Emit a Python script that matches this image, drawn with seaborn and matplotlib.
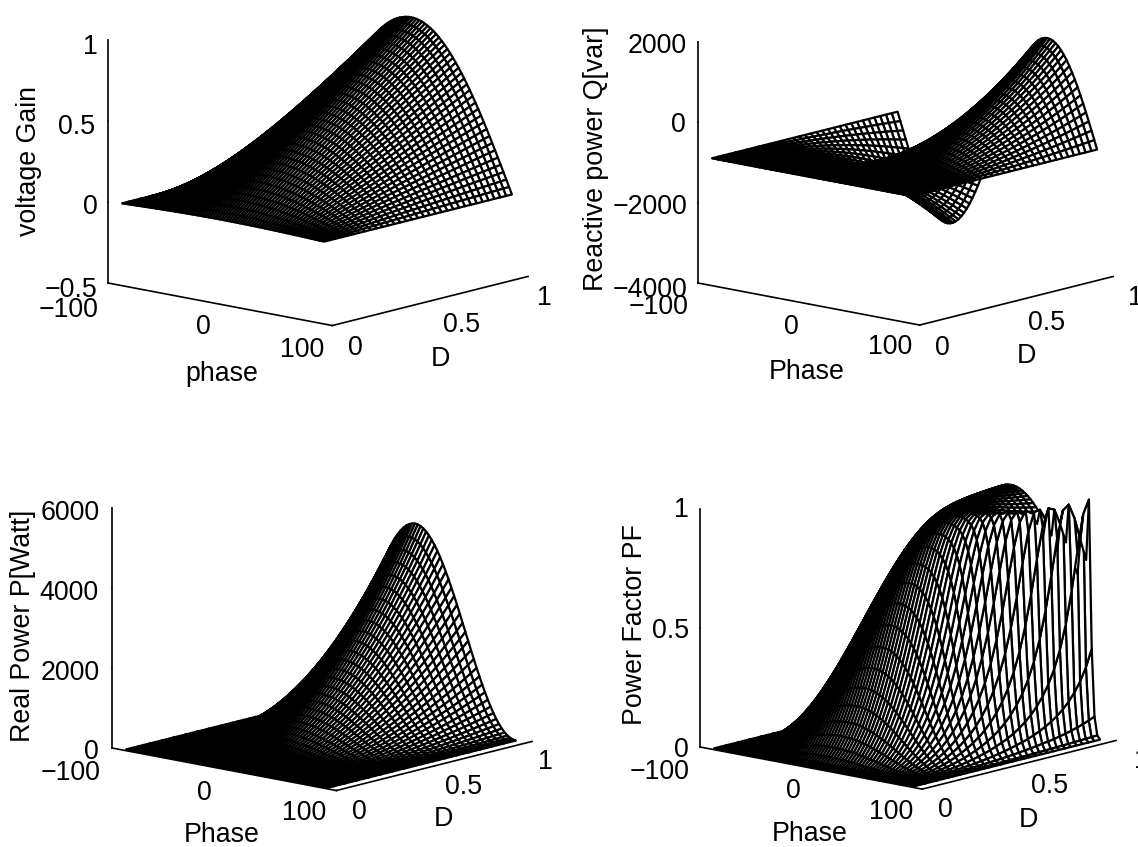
import numpy as np
import matplotlib
matplotlib.use("Agg")
import matplotlib.pyplot as plt
from matplotlib.transforms import offset_copy
import seaborn as sns
from mpl_toolkits.mplot3d import proj3d

# grid of the mesh
phase = [-90,-87.5,-85,-82.5,-80,-77.5,-75,-72.5,-70,-67.5,-65,-62.5,-60,-57.5,-55,-52.5,-50,-47.5,-45,
         -42.5,-40,-37.5,-35,-32.5,-30,-27.5,-25,-22.5,-20,-17.5,-15,-12.5,-10,-7.5,-5,-2.5,0,
         2.5,5,7.5,10,12.5,15,17.5,20,22.5,25,27.5,30,32.5,35,37.5,40,42.5,45,
         47.5,50,52.5,55,57.5,60,62.5,65,67.5,70,72.5,75,77.5,80,82.5,85,87.5,90]
duty = [.015,.045,.075,.105,.135,.165,.195,.225,.255,.285,.315,.345,.375,.405,.435,.465,.495,
        .525,.555,.585,.615,.645,.675,.705,.735,.765,.795,.825,.855,.885,.915,.945,.975]

gain_by_duty = [.015,.045,.075,.105,.135,.165,.195,.225,.255,.285,.315,.345,.375,.405,.435,.465,.495,
                .525,.555,.585,.615,.645,.675,.705,.735,.765,.795,.825,.855,.885,.915,.945,.975]
gain_from_peak = [1,.999,.996,.991,.985,.976,.966,.954,.94,.924,.906,.887,.866,.843,.819,.793,.766,.737,.707,
                  .676,.643,.609,.574,.537,.5,.462,.423,.383,.342,.301,.259,.216,.174,.131,.087,.044,0]
gain_by_phase = gain_from_peak[::-1] + gain_from_peak[1:]
power_by_duty = [1,10,29,57,95,141,198,263,338,422,516,619,731,853,984,1124,1274,1433,1602,1779,1967,
                 2163,2369,2584,2809,3043,3286,3539,3801,4073,4353,4644,4943]
power_from_peak = [1,.998,.992,.983,.97,.953,.933,.91,.883,.854,.821,.786,.75,.71,.671,.629,.587,.543,.5,
                   .457,.413,.371,.329,.289,.25,.214,.179,.147,.117,.09,.067,.047,.03,.017,.008,.002,0]
power_by_phase = power_from_peak[::-1] + power_from_peak[1:]
react_offset = -865
react_by_duty = [1,5,14,29,48,72,102,135,174,217,265,317,375,437,505,577,654,735,823,913,1010,
                 1110,1216,1327,1442,1562,1687,1817,1951,2091,2235,2385,2538]
react_positive = [0,.087,.174,.259,.342,.423,.5,.574,.643,.707,.766,.819,.866,.906,.94,.966,.985,.996,1,
                  .996,.985,.966,.94,.906,.866,.819,.766,.707,.643,.574,.5,.423,.342,.259,.174,.087,0]
react_by_phase = [-v for v in react_positive[::-1]] + react_positive[1:]

xlabels = ["phase", "Phase", "Phase", "Phase"]
ylabel_d = "D"
zlabels = ["voltage Gain", "Reactive power Q[var]", "Real Power P[Watt]", "Power Factor PF"]
zticks = [[-.5,0,.5,1], [-4000,-2000,0,2000], [0,2000,4000,6000], [0,.5,1]]
zticklabels = [["\u22120.5","0","0.5","1"], ["\u22124000","\u22122000","0","2000"],
               ["0","2000","4000","6000"], ["0","0.5","1"]]
zlims = [(-.5,1), (-4000,2000), (0,6000), (0,1)]

sns.set_theme(style="white")
plt.rcParams["font.family"] = ["Liberation Sans", "DejaVu Sans"]
plt.rcParams["text.color"] = "black"
plt.rcParams["axes.labelcolor"] = "black"

G = np.outer(gain_by_phase, gain_by_duty)
P = np.outer(power_by_phase, power_by_duty)
Q = react_offset + np.outer(react_by_phase, react_by_duty)
PF = P / np.sqrt(P**2 + Q**2)
surfaces = [G, Q, P, PF]

# pixel anchors: z-axis foot, front corner, far end of the D axis, z height
anchors = [((108,283),(332,325),(528,275),243),
           ((698,283),(922,324),(1113,273),244),
           ((112,748),(334,788),(532,740),240),
           ((700,747),(922,787),(1116,739),240)]

# text nudges in pixels (right, up)
x_nudge = [[(-24,9),(-1,13),(-15,12)], [(-24,12),(-2,13),(-14,14)],
           [(-26,11),(-4,12),(-17,13)], [(-25,11),(-2,13),(-16,13)]]
y_nudge = [[(5,13),(14,11),(-1,14)], [(5,13),(13,13),(5,14)],
           [(5,14),(12,14),(-4,15)], [(5,14),(13,14),(8,15)]]
z_nudge = [[(-9,6),(11,8),(-3,7),(11,6)], [(-20,6),(-20,9),(9,11),(-13,9)],
           [(8,9),(-13,8),(-15,8),(-13,8)], [(10,10),(-1,10),(10,13)]]
label_nudge = [[(33,-22),(-26,-11),(-11,1)], [(30,-20),(-26,-9),(-34,5)],
               [(29,-18),(-27,-7),(-20,3)], [(31,-19),(-27,-9),(4,5)]]

W, H = 1138, 847
FS = 19.3
fig = plt.figure(figsize=(W/100, H/100), dpi=100, facecolor="white")
X, Y = np.meshgrid(duty, phase)

def corner_px(ax, x, y, z):
    ax.apply_aspect()
    M = ax.get_proj()
    a, b, _ = proj3d.proj_transform(x, y, z, M)
    return ax.transData.transform((a, b))

def nudge(ax, text, dxy):
    # Axis3D resets label transforms while drawing, so the shift sits on get_transform
    shifted = offset_copy(ax.transData, fig=fig, x=dxy[0], y=dxy[1], units="dots")
    text.get_transform = lambda: shifted

for i in range(4):
    (fx, fy), (cx, cy), (ex, ey), zh = anchors[i]
    ax = fig.add_axes([0.1, 0.1, 0.5, 0.5], projection="3d")
    ax.set_proj_type("ortho")
    ax.view_init(elev=12.6, azim=-49)
    ax.set_box_aspect((297, 298, zh/np.cos(np.radians(12.6))))
    zlo, zhi = zlims[i]
    ax.set_xlim(-100, 100, view_margin=0)
    ax.set_ylim(0, 1, view_margin=0)
    ax.set_zlim(zlo, zhi, view_margin=0)
    ax.patch.set_alpha(0)
    # size, then position, the 3D box to the pixel anchors
    a = corner_px(ax, -100, 0, zlo); b = corner_px(ax, 100, 1, zlo)
    k = (ex - fx) / (b[0] - a[0])
    side = 0.5 * H * k
    ax.set_position([0.1, 0.1, side/W, side/H])
    a = corner_px(ax, -100, 0, zlo)
    pos = ax.get_position(original=True)
    ax.set_position([pos.x0 + (fx - a[0])/W, pos.y0 + ((H - fy) - a[1])/H, pos.width, pos.height])

    surf = ax.plot_surface(Y, X, surfaces[i], rstride=1, cstride=1, color="white",
                           edgecolor="black", linewidth=1.6, shade=False, antialiased=True)
    surf.set_clip_on(False)

    ax.grid(False)
    for axis in (ax.xaxis, ax.yaxis, ax.zaxis):
        axis.set_pane_color((1, 1, 1, 0))
        axis.pane.set_edgecolor((1, 1, 1, 0))
        axis.line.set_color("black")
        axis.line.set_linewidth(1.2)
        axis._axinfo["tick"]["inward_factor"] = 0.02
        axis._axinfo["tick"]["outward_factor"] = 0.0
        axis._axinfo["tick"]["linewidth"] = {True: 1.0, False: 0.5}
        axis._axinfo["tick"]["color"] = "black"
    ax.zaxis.set_ticks_position("lower")
    ax.zaxis.set_label_position("lower")
    ax.set_xticks([-100, 0, 100]); ax.set_xticklabels(["\u2212100", "0", "100"], fontsize=FS)
    ax.set_yticks([0, .5, 1]); ax.set_yticklabels(["0", "0.5", "1"], fontsize=FS)
    ax.set_zticks(zticks[i]); ax.set_zticklabels(zticklabels[i], fontsize=FS)
    ax.tick_params(axis="x", pad=6, colors="black")
    ax.tick_params(axis="y", pad=6, colors="black")
    ax.tick_params(axis="z", pad=4, colors="black")
    ax.set_xlabel(xlabels[i], fontsize=FS, labelpad=8)
    ax.set_ylabel(ylabel_d, fontsize=FS, labelpad=8)
    ax.xaxis.set_rotate_label(False); ax.yaxis.set_rotate_label(False)
    ax.set_zlabel(zlabels[i], fontsize=FS, labelpad=8, rotation=90)
    ax.zaxis.set_rotate_label(False)

    for axis, offs in ((ax.xaxis, x_nudge[i]), (ax.yaxis, y_nudge[i]), (ax.zaxis, z_nudge[i])):
        for tick, d in zip(axis.get_major_ticks(), offs):
            nudge(ax, tick.label1, d)
    nudge(ax, ax.xaxis.label, label_nudge[i][0])
    nudge(ax, ax.yaxis.label, label_nudge[i][1])
    nudge(ax, ax.zaxis.label, label_nudge[i][2])

fig.savefig("out.png", dpi=100, facecolor="white")
